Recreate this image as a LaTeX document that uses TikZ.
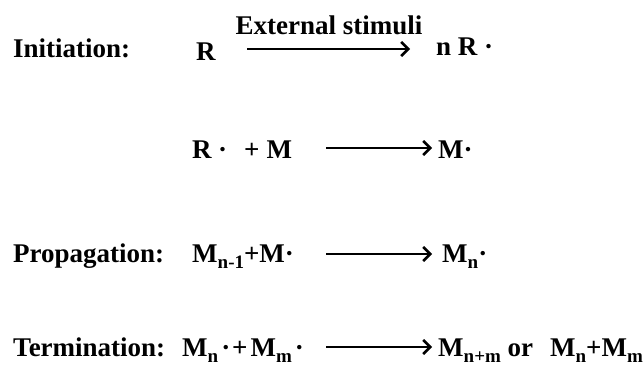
\documentclass[tikz,border=0pt]{standalone}
\usepackage{fontspec}
\setmainfont{Liberation Serif}
\usetikzlibrary{arrows.meta, positioning}
\newcommand{\lowsub}[1]{\raisebox{-6pt}{\fontsize{19}{19}\selectfont #1}}

\begin{document}
\begin{tikzpicture}[x=1pt, y=-1pt,
  txt/.style={anchor=base west, inner sep=0pt, font=\fontsize{27}{32}\selectfont\bfseries},
  rxn/.style={line width=2.6pt, -{Straight Barb[length=7pt, width=14pt]}}
]
\useasboundingbox (0,0) rectangle (644,380);

\node[txt] (ini) at (13,57) {Initiation:};
\node[txt] (r) at (196,60) {R};
\coordinate (s1) at (247,49);
\coordinate (e1) at (410,49);
\draw[rxn] (s1) -- (e1);
\node[txt, anchor=base] (ext) at (329,34) {External stimuli};
\node[txt] (nr) at (436,55) {n R ·};

\node[txt] (rm) at (192,158) {R\hspace{6.5pt}·\hspace{17pt}+\hspace{7pt}M};
\coordinate (s2) at (326,148);
\coordinate (e2) at (432,148);
\draw[rxn] (s2) -- (e2);
\node[txt] (m) at (438,158) {M·};

\node[txt] (pro) at (13,262) {Propagation:};
\node[txt] (mn1) at (192,262) {M\lowsub{n-1}+M·};
\coordinate (s3) at (326,254);
\coordinate (e3) at (432,254);
\draw[rxn] (s3) -- (e3);
\node[txt] (mn) at (442,262) {M\lowsub{n}·};

\node[txt] (ter) at (13,356) {Termination:};
\node[txt] (mnm) at (182,356) {M\lowsub{n}\hspace{3pt}·\hspace{2pt}+\hspace{3pt}M\lowsub{m}\hspace{3pt}·};
\coordinate (s4) at (326,347);
\coordinate (e4) at (432,347);
\draw[rxn] (s4) -- (e4);
\node[txt] (out) at (438,356) {M\lowsub{n+m} or\hspace{17pt}M\lowsub{n}+M\lowsub{m}};
\end{tikzpicture}
\end{document}
